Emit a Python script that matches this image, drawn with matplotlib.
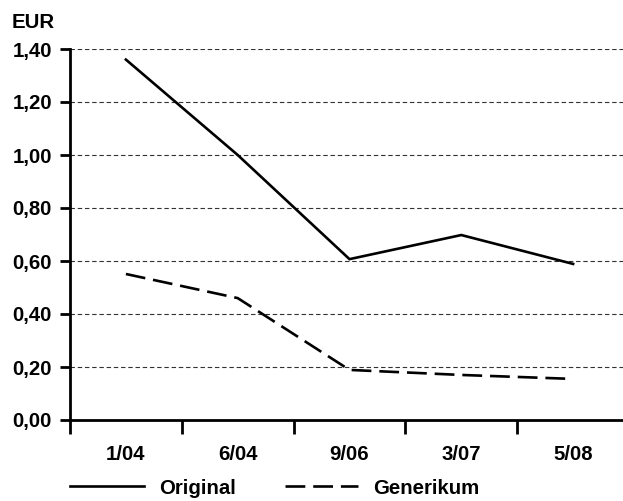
import matplotlib
matplotlib.use("Agg")
import matplotlib.pyplot as plt
from matplotlib.lines import Line2D

# data
dates = ["1/04", "6/04", "9/06", "3/07", "5/08"]
original = [1.36, 1.00, 0.607, 0.698, 0.589]
generikum = [0.551, 0.46, 0.189, 0.17, 0.155]
y_ticks = [0.0, 0.2, 0.4, 0.6, 0.8, 1.0, 1.2, 1.4]

plt.rcParams['font.family'] = ['Liberation Sans', 'DejaVu Sans']
plt.rcParams['font.weight'] = 'bold'
fs = 14.7

fig = plt.figure(figsize=(6.23, 5.01), dpi=100)
W, H = 623, 501
left, right, top, bottom = 70, 629, 49, 420
ax = fig.add_axes([left / W, 1 - bottom / H, (right - left) / W, (bottom - top) / H])

x = list(range(len(dates)))
ax.plot(x, original, color='black', lw=1.9, solid_joinstyle='miter', zorder=3)
ax.plot(x, generikum, color='black', lw=1.9, dashes=(7.5, 3), zorder=3)

ax.set_xlim(-0.5, len(dates) - 0.5)
ax.set_ylim(0, 1.4)

ax.set_yticks(y_ticks)
ax.set_yticklabels([f"{v:.2f}".replace('.', ',') for v in y_ticks], fontsize=fs, fontweight='bold')
ax.set_xticks(x)
ax.set_xticklabels(dates, fontsize=fs, fontweight='bold')
ax.set_xticks([i - 0.5 for i in range(len(dates) + 1)], minor=True)
ax.tick_params(axis='x', which='major', length=0, pad=18)
ax.tick_params(axis='x', which='minor', length=10, width=2, direction='out')
ax.tick_params(axis='y', length=7, width=2, direction='out', pad=6)

for v in y_ticks[1:]:
    ax.axhline(v, color='#333333', lw=0.8, dashes=(4, 2.5), zorder=1)

for s in ['top', 'right']:
    ax.spines[s].set_visible(False)
for s in ['left', 'bottom']:
    ax.spines[s].set_linewidth(2)

fig.text(12 / W, 1 - 22 / H, "EUR", fontsize=fs, fontweight='bold', va='center', ha='left')

handles = [Line2D([], [], color='black', lw=1.9),
           Line2D([], [], color='black', lw=1.9, dashes=(7.5, 3))]
fig.legend(handles, ["Original", "Generikum"], loc='center left',
           bbox_to_anchor=(70 / W, 1 - 488 / H), ncol=2, frameon=False,
           fontsize=fs, handlelength=3.6, handletextpad=0.75, columnspacing=2.4,
           borderaxespad=0, borderpad=0)

fig.savefig("out.png", dpi=100)
